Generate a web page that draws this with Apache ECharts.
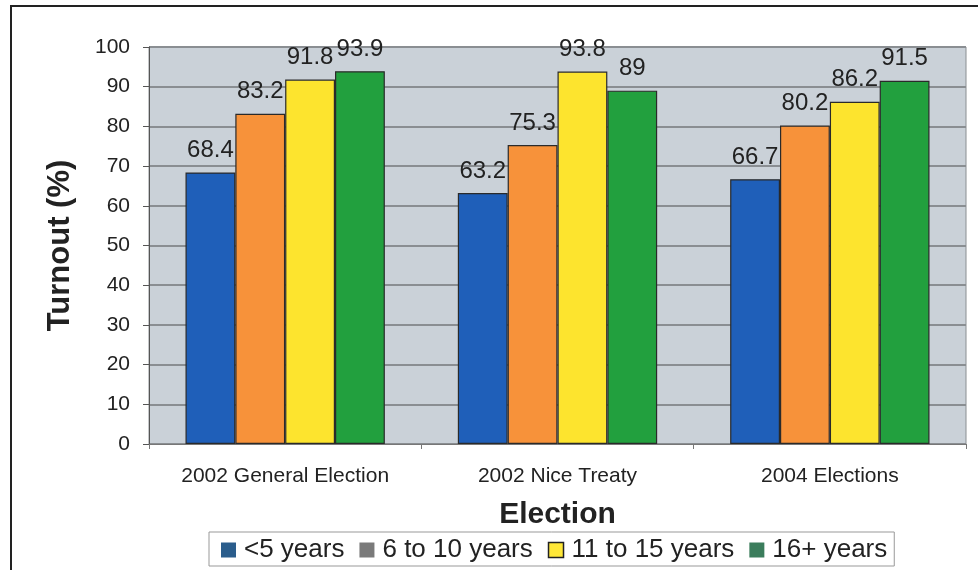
<!DOCTYPE html>
<html>
<head>
<meta charset="utf-8">
<script src="https://cdn.jsdelivr.net/npm/echarts@6/dist/echarts.min.js"></script>
<style>
  html, body { margin: 0; padding: 0; background: #fff; }
  #frame { position: absolute; left: 10px; top: 5px; width: 968px; height: 570px; border: 2px solid #222; border-bottom: none; border-right: none; box-sizing: border-box; }
  #chart { width: 979px; height: 570px; position: absolute; left: 0; top: 0; }
</style>
</head>
<body>
<div id="chart"></div>
<div id="frame"></div>
<script>
const categories = ['2002 General Election', '2002 Nice Treaty', '2004 Elections'];
const seriesNames = ['<5 years', '6 to 10 years', '11 to 15 years', '16+ years'];
const under5 = [68.4, 63.2, 66.7];
const sixTo10 = [83.2, 75.3, 80.2];
const elevenTo15 = [91.8, 93.8, 86.2];
const over16 = [93.9, 89, 91.5];
const yTicks = [0, 10, 20, 30, 40, 50, 60, 70, 80, 90, 100];

const barColors = ['#1f5fb9', '#f7923a', '#fde42e', '#22a03e'];
const legendColors = ['#2b5d8c', '#7a7a7a', '#ffe838', '#3b7d5c'];
const values = [under5, sixTo10, elevenTo15, over16];
const FONT = 'Liberation Sans, Arial, sans-serif';

const chart = echarts.init(document.getElementById('chart'));
chart.setOption({
  animation: false,
  grid: { left: 149, right: 13, top: 47, bottom: 126, show: true, backgroundColor: '#cad1d8', borderColor: '#8a8e92', borderWidth: 1 },
  xAxis: {
    type: 'category',
    data: categories,
    name: 'Election',
    nameLocation: 'middle',
    nameGap: 56,
    nameTextStyle: { fontFamily: FONT, fontWeight: 'bold', fontSize: 30, color: '#222' },
    axisLine: { lineStyle: { color: '#777' } },
    axisTick: { show: true, length: 5, lineStyle: { color: '#777' } },
    axisLabel: { fontFamily: FONT, fontSize: 21, color: '#222', margin: 22 }
  },
  yAxis: {
    type: 'value',
    min: yTicks[0],
    max: yTicks[yTicks.length - 1],
    interval: 10,
    name: 'Turnout (%)',
    nameLocation: 'middle',
    nameGap: 73,
    nameTextStyle: { fontFamily: FONT, fontWeight: 'bold', fontSize: 31, color: '#222' },
    axisLine: { show: true, lineStyle: { color: '#555' } },
    axisTick: { show: true, length: 6, lineStyle: { color: '#555' } },
    axisLabel: { fontFamily: FONT, fontSize: 21, color: '#222', margin: 19 },
    splitLine: { lineStyle: { color: '#8a8e92', width: 2 } }
  },
  legend: {
    top: 532,
    left: 209,
    itemWidth: 15,
    itemHeight: 15,
    itemGap: 15,
    padding: [5, 7, 3, 12],
    borderColor: '#999',
    borderWidth: 1,
    textStyle: { fontFamily: FONT, fontSize: 26, color: '#222', padding: [0, 0, 0, 3] },
    data: seriesNames.map((n, i) => ({ name: n, icon: 'rect', itemStyle: { color: legendColors[i], borderColor: i === 2 ? '#222' : legendColors[i], borderWidth: i === 2 ? 1.5 : 0 } }))
  },
  series: seriesNames.map((n, i) => ({
    name: n,
    type: 'bar',
    data: values[i],
    barWidth: '18.3%',
    barGap: '0%',
    itemStyle: { color: barColors[i], borderColor: '#2a2a2a', borderWidth: 1.2 },
    label: {
      show: true,
      position: 'top',
      distance: 10,
      fontFamily: FONT,
      fontSize: 24,
      color: '#222'
    }
  }))
});
</script>
</body>
</html>
